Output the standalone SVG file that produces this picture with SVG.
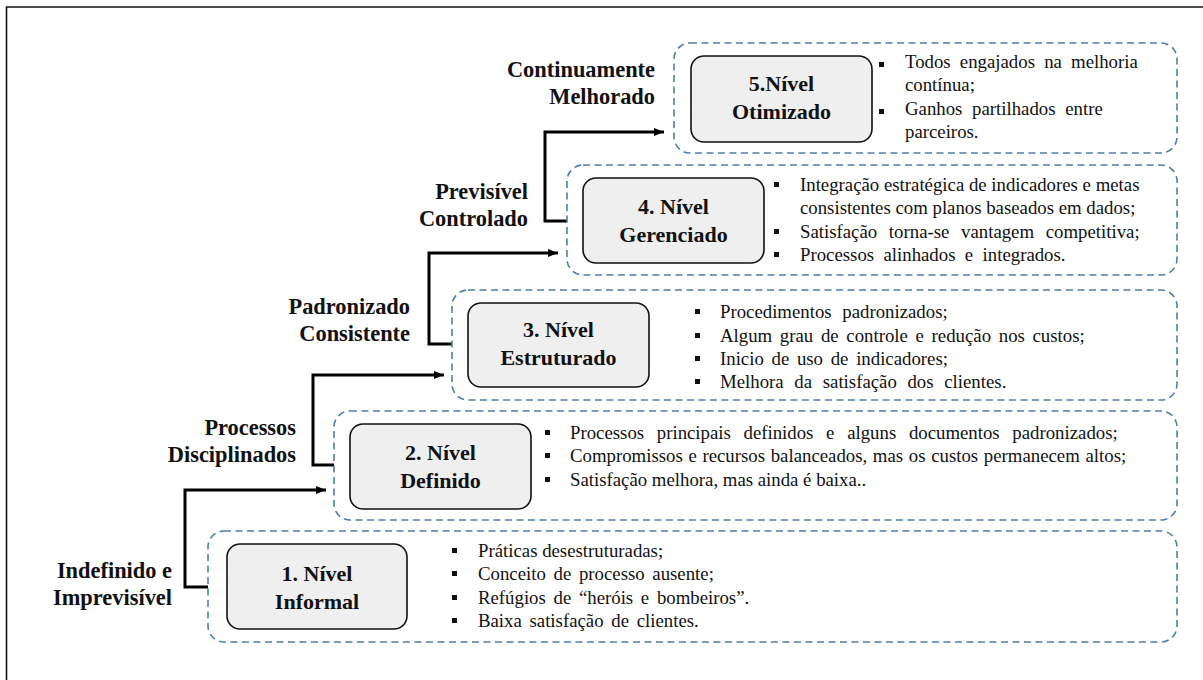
<svg xmlns="http://www.w3.org/2000/svg" width="1203" height="680" viewBox="0 0 1203 680">
<style>
.frame{fill:none;stroke:#111;stroke-width:1.6}
.dash{fill:none;stroke:#4f7eab;stroke-width:1.6;stroke-dasharray:7 4.5}
.lvl{fill:#efefef;stroke:#111;stroke-width:1.6}
text{font-family:'Liberation Serif','Times New Roman',serif;fill:#111}
.lt{font-weight:bold;font-size:22px;text-anchor:middle}
.sl{font-weight:bold;font-size:22.4px;text-anchor:end}
.bt{font-size:18.8px;word-spacing:3px}
.bul{fill:#111}
.con{fill:none;stroke:#000;stroke-width:3}
</style>
<defs>
<marker id="ah" markerWidth="10" markerHeight="8" refX="10" refY="4" orient="auto" markerUnits="userSpaceOnUse">
<path d="M0,0 L10,4 L0,8 Z" fill="#000"/>
</marker>
</defs>
<rect width="1203" height="680" fill="#fff"/>
<path class="frame" d="M6.5,680 V7 H1203"/>

<g id="connectors">
<path class="con" d="M208,587 H185 V490 H326" marker-end="url(#ah)"/>
<path class="con" d="M334,465 H313 V375 H444" marker-end="url(#ah)"/>
<path class="con" d="M452,344 H429 V253 H558" marker-end="url(#ah)"/>
<path class="con" d="M567,221 H545 V132 H664" marker-end="url(#ah)"/>
</g>

<g id="side-labels">
<text class="sl" x="655" y="77">Continuamente</text>
<text class="sl" x="655" y="104">Melhorado</text>
<text class="sl" x="528" y="199">Previsível</text>
<text class="sl" x="528" y="226">Controlado</text>
<text class="sl" x="410" y="314">Padronizado</text>
<text class="sl" x="410" y="341">Consistente</text>
<text class="sl" x="296" y="435">Processos</text>
<text class="sl" x="296" y="462">Disciplinados</text>
<text class="sl" x="172" y="578">Indefinido e</text>
<text class="sl" x="172" y="605">Imprevisível</text>
</g>

<g id="level5">
<rect class="dash" x="674" y="43" width="503" height="110" rx="16"/>
<rect class="lvl" x="691" y="56" width="181" height="86" rx="13"/>
<text class="lt" x="781.5" y="91">5.Nível</text>
<text class="lt" x="781.5" y="119">Otimizado</text>
<rect class="bul" x="879" y="62" width="5" height="5"/>
<rect class="bul" x="879" y="109" width="5" height="5"/>
<text class="bt" x="905" y="68" style="word-spacing:4.5px">Todos engajados na melhoria</text>
<text class="bt" x="905" y="91">contínua;</text>
<text class="bt" x="905" y="115" style="word-spacing:5px">Ganhos partilhados entre</text>
<text class="bt" x="905" y="138">parceiros.</text>
</g>

<g id="level4">
<rect class="dash" x="567" y="165" width="610" height="110" rx="16"/>
<rect class="lvl" x="583" y="178" width="181" height="85" rx="13"/>
<text class="lt" x="673.5" y="214">4. Nível</text>
<text class="lt" x="673.5" y="242">Gerenciado</text>
<rect class="bul" x="774" y="182" width="5" height="5"/>
<rect class="bul" x="774" y="229" width="5" height="5"/>
<rect class="bul" x="774" y="252" width="5" height="5"/>
<text class="bt" x="800" y="191" style="word-spacing:0">Integração estratégica de indicadores e metas</text>
<text class="bt" x="800" y="214" style="word-spacing:0">consistentes com planos baseados em dados;</text>
<text class="bt" x="800" y="238" style="word-spacing:7px">Satisfação torna-se vantagem competitiva;</text>
<text class="bt" x="800" y="261" style="word-spacing:4.7px">Processos alinhados e integrados.</text>
</g>

<g id="level3">
<rect class="dash" x="452" y="290" width="725" height="110" rx="16"/>
<rect class="lvl" x="468" y="303" width="181" height="84" rx="13"/>
<text class="lt" x="558.5" y="337">3. Nível</text>
<text class="lt" x="558.5" y="365">Estruturado</text>
<rect class="bul" x="695" y="309" width="5" height="5"/>
<rect class="bul" x="695" y="333" width="5" height="5"/>
<rect class="bul" x="695" y="356" width="5" height="5"/>
<rect class="bul" x="695" y="379" width="5" height="5"/>
<text class="bt" x="720" y="318" style="word-spacing:6px">Procedimentos padronizados;</text>
<text class="bt" x="720" y="342">Algum grau de controle e redução nos custos;</text>
<text class="bt" x="720" y="365">Inicio de uso de indicadores;</text>
<text class="bt" x="720" y="388" style="word-spacing:6px">Melhora da satisfação dos clientes.</text>
</g>

<g id="level2">
<rect class="dash" x="334" y="411" width="843" height="109" rx="16"/>
<rect class="lvl" x="350" y="424" width="181" height="85" rx="13"/>
<text class="lt" x="440.5" y="460">2. Nível</text>
<text class="lt" x="440.5" y="488">Definido</text>
<rect class="bul" x="545" y="430" width="5" height="5"/>
<rect class="bul" x="545" y="453" width="5" height="5"/>
<rect class="bul" x="545" y="477" width="5" height="5"/>
<text class="bt" x="570" y="439" style="word-spacing:8px">Processos principais definidos e alguns documentos padronizados;</text>
<text class="bt" x="570" y="462" style="word-spacing:1px">Compromissos e recursos balanceados, mas os custos permanecem altos;</text>
<text class="bt" x="570" y="486" style="word-spacing:0">Satisfação melhora, mas ainda é baixa..</text>
</g>

<g id="level1">
<rect class="dash" x="208" y="531" width="969" height="111" rx="16"/>
<rect class="lvl" x="227" y="544" width="180" height="85" rx="13"/>
<text class="lt" x="317" y="581">1. Nível</text>
<text class="lt" x="317" y="609">Informal</text>
<rect class="bul" x="452" y="548" width="5" height="5"/>
<rect class="bul" x="452" y="571" width="5" height="5"/>
<rect class="bul" x="452" y="595" width="5" height="5"/>
<rect class="bul" x="452" y="618" width="5" height="5"/>
<text class="bt" x="478" y="557" style="word-spacing:0">Práticas desestruturadas;</text>
<text class="bt" x="478" y="580">Conceito de processo ausente;</text>
<text class="bt" x="478" y="604">Refúgios de “heróis e bombeiros”.</text>
<text class="bt" x="478" y="627">Baixa satisfação de clientes.</text>
</g>
</svg>
